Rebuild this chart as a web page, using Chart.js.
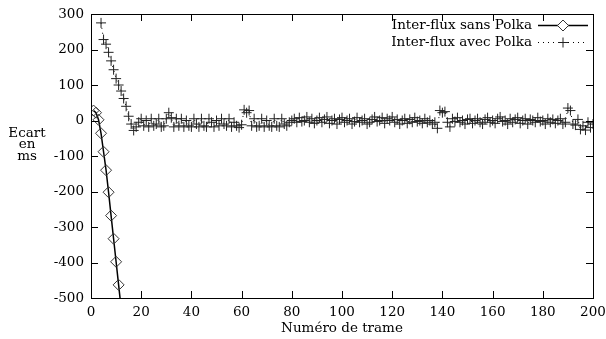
<!DOCTYPE html>
<html>
<head>
<meta charset="utf-8">
<script src="https://cdn.jsdelivr.net/npm/chart.js@4.4.0/dist/chart.umd.min.js"></script>
<style>
  html, body { margin: 0; padding: 0; background: #fff; }
</style>
</head>
<body>
<canvas id="chart" width="606" height="339"></canvas>
<script>
'use strict'

// Series labels and axis texts
var seriesLabels = ['Inter-flux sans Polka', 'Inter-flux avec Polka']
var xTitle = 'Numéro de trame'
var yTitleLines = ['Ecart', 'en', 'ms']

// Tick marks
var xTicks = [0, 20, 40, 60, 80, 100, 120, 140, 160, 180, 200]
var yTicks = [-500, -400, -300, -200, -100, 0, 100, 200, 300]

// "sans Polka": frames 1..12 (last one leaves the chart)
var sansFirstFrame = 1
var sansValues = [28, 22, 2, -36, -88, -140, -202, -268, -333, -398, -463, -528]

// "avec Polka": frames 4..200
var avecFirstFrame = 4
var avecValues = [
  275, 228, 215, 192, 168, 143, 118, 100, 83, 62,
  40, 12, -10, -28, -18, -5, 5, -15, 0, -18,
  5, -15, -10, 5, -18, -15, 5, 22, 8, -18,
  5, -15, 5, -18, 0, -15, -18, 5, -10, -18,
  5, -15, -18, 5, -5, -18, 0, -15, 5, -10,
  -15, 5, -18, -5, -15, -20, -12, 30, 22, 28,
  -15, 5, -18, -15, 5, -18, 0, -15, -18, 5,
  -15, -18, 5, -10, -15, -5, 0, 5, -5, 8,
  -3, 0, 10, -5, 5, -8, 0, 8, -5, 3,
  10, -8, 0, 5, -10, 3, 8, -5, 0, 5,
  -10, -3, 8, -5, 0, 5, -10, -5, 3, 10,
  -3, 0, 8, -8, 5, 0, 10, -5, 3, -10,
  0, 5, -8, 3, -5, 8, -3, 0, -8, 5,
  -5, 0, -10, -5, -22, 28, 22, 25, -5, -18,
  5, -3, 8, -5, 0, -10, 3, 5, -8, 0,
  5, -5, -10, 3, 8, -5, 0, -8, 5, 10,
  -3, 0, -10, 5, -5, 3, 8, -8, 0, 5,
  -10, 3, 0, -5, 8, -3, 0, -10, 5, -5,
  3, -8, 0, 5, -10, -5, 35, 28, -10, -13,
  3, -25, -15, -27, -5, -20, -10
]

var FONT = 'DejaVu Serif'
var FONT_SIZE = 13.5

function toPoints(first, values) {
  return values.map(function (v, i) { return { x: first + i, y: v } })
}

// gnuplot style frame: border box + inward ticks on all four sides
var framePlugin = {
  id: 'gnuFrame',
  afterDatasetsDraw: function (chart) {
    var ctx = chart.ctx
    var a = chart.chartArea
    var xs = chart.scales.x
    var ys = chart.scales.y
    var len = 7
    ctx.save()
    ctx.strokeStyle = '#000'
    ctx.lineWidth = 1
    ctx.beginPath()
    xTicks.forEach(function (t) {
      var px = Math.round(xs.getPixelForValue(t)) + 0.5
      ctx.moveTo(px, a.top); ctx.lineTo(px, a.top + len)
      ctx.moveTo(px, a.bottom); ctx.lineTo(px, a.bottom - len)
    })
    yTicks.forEach(function (t) {
      var py = Math.round(ys.getPixelForValue(t)) + 0.5
      ctx.moveTo(a.left, py); ctx.lineTo(a.left + len, py)
      ctx.moveTo(a.right, py); ctx.lineTo(a.right - len, py)
    })
    ctx.stroke()
    ctx.strokeRect(Math.round(a.left) + 0.5, Math.round(a.top) + 0.5,
      Math.round(a.right - a.left), Math.round(a.bottom - a.top))
    ctx.restore()
  }
}

// Key inside the plot, top right, text before the sample
var keyPlugin = {
  id: 'gnuKey',
  afterDraw: function (chart) {
    var ctx = chart.ctx
    var a = chart.chartArea
    var textRight = a.right - 61
    var sampleL = a.right - 55
    var sampleR = a.right - 5
    ctx.save()
    ctx.font = FONT_SIZE + 'px "' + FONT + '"'
    ctx.fillStyle = '#000'
    ctx.textAlign = 'right'
    ctx.textBaseline = 'middle'
    chart.data.datasets.forEach(function (ds, i) {
      var y = a.top + 11 + i * 17
      ctx.fillText(ds.label, textRight, y)
      ctx.strokeStyle = ds.borderColor
      ctx.lineWidth = ds.borderWidth
      ctx.setLineDash(ds.borderDash || [])
      ctx.beginPath()
      ctx.moveTo(sampleL, y + 0.5)
      ctx.lineTo(sampleR, y + 0.5)
      ctx.stroke()
      ctx.setLineDash([])
      ctx.lineWidth = ds.pointBorderWidth
      ctx.strokeStyle = ds.pointBorderColor
      ctx.fillStyle = '#fff'
      Chart.helpers.drawPoint(ctx, {
        pointStyle: ds.pointStyle, radius: ds.pointRadius, borderWidth: ds.pointBorderWidth
      }, (sampleL + sampleR) / 2, y + 0.5)
      ctx.fillStyle = '#000'
    })
    ctx.restore()
  }
}

// Horizontal y axis caption on three lines
var yTitlePlugin = {
  id: 'gnuYTitle',
  afterDraw: function (chart) {
    var ctx = chart.ctx
    ctx.save()
    ctx.font = FONT_SIZE + 'px "' + FONT + '"'
    ctx.fillStyle = '#000'
    ctx.textAlign = 'center'
    ctx.textBaseline = 'middle'
    yTitleLines.forEach(function (line, i) {
      ctx.fillText(line, 27, 133 + i * 11.5)
    })
    ctx.restore()
  }
}

var ctx = document.getElementById('chart').getContext('2d')

var chart = new Chart(ctx, {
  type: 'line',
  data: {
    datasets: [
      {
        label: seriesLabels[0],
        data: toPoints(sansFirstFrame, sansValues),
        borderColor: '#000',
        borderWidth: 1.5,
        pointStyle: 'rectRot',
        pointRadius: 5.5,
        pointBorderWidth: 1,
        pointBorderColor: '#333',
        pointBackgroundColor: 'rgba(0,0,0,0)',
        tension: 0
      },
      {
        label: seriesLabels[1],
        data: toPoints(avecFirstFrame, avecValues),
        borderColor: '#000',
        borderWidth: 1,
        borderDash: [1, 4],
        pointStyle: 'cross',
        pointRadius: 5,
        pointBorderWidth: 1,
        pointBorderColor: '#222',
        pointBackgroundColor: 'rgba(0,0,0,0)',
        tension: 0
      }
    ]
  },
  options: {
    responsive: false,
    animation: false,
    layout: {
      padding: { left: 0, right: 13, top: 14, bottom: 0 }
    },
    plugins: {
      legend: { display: false },
      tooltip: { enabled: false }
    },
    scales: {
      x: {
        type: 'linear',
        min: 0,
        max: 200,
        afterFit: function (scale) {
          scale.height = 41
          scale.paddingLeft = 0
          scale.paddingRight = 0
        },
        afterBuildTicks: function (scale) {
          scale.ticks = xTicks.map(function (v) { return { value: v } })
        },
        grid: { display: false, drawTicks: false },
        border: { display: false },
        ticks: {
          padding: 6,
          maxRotation: 0,
          color: '#000',
          font: { family: FONT, size: FONT_SIZE }
        },
        title: {
          display: true,
          text: xTitle,
          color: '#000',
          padding: { top: 0, bottom: 2 },
          font: { family: FONT, size: FONT_SIZE }
        }
      },
      y: {
        type: 'linear',
        min: -500,
        max: 300,
        afterFit: function (scale) {
          scale.width = 91
          scale.paddingTop = 0
          scale.paddingBottom = 0
        },
        afterBuildTicks: function (scale) {
          scale.ticks = yTicks.map(function (v) { return { value: v } })
        },
        grid: { display: false, drawTicks: false },
        border: { display: false },
        ticks: {
          padding: 7,
          color: '#000',
          font: { family: FONT, size: FONT_SIZE }
        }
      }
    }
  },
  plugins: [framePlugin, keyPlugin, yTitlePlugin]
})
</script>
</body>
</html>
